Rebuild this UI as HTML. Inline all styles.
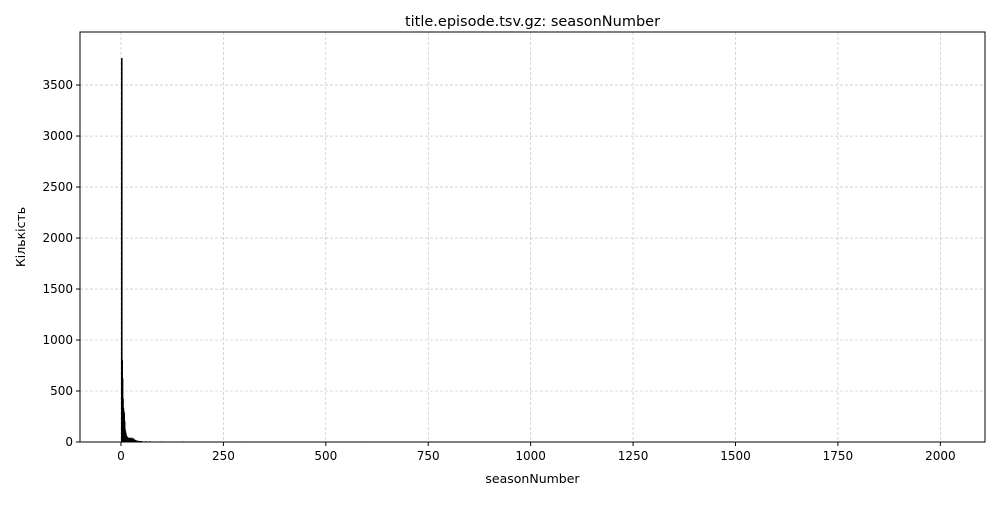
<!DOCTYPE html>
<html><head><meta charset="utf-8"><style>
body{margin:0;background:#fff;font-family:"Liberation Sans","DejaVu Sans",sans-serif;}
</style></head><body>
<svg id="c" width="1000" height="500" font-family="DejaVu Sans, Liberation Sans, sans-serif"></svg>
<script>
const seasons=[1,2,3,4,5,6,7,8,9,10,11,12,13,14,15,16,17,18,19,20,22,24,26,28,30,32,35,38,42,46,50,60,70,100,150,300,600,1000,2000];
const counts=[3760,800,620,420,330,300,280,200,120,100,80,60,55,45,40,40,35,35,30,40,35,30,38,25,30,20,15,10,8,6,5,4,3,2,2,1,1,1,1];
const xTicks=[0,250,500,750,1000,1250,1500,1750,2000];
const yTicks=[0,500,1000,1500,2000,2500,3000,3500];
const L=80,R=985,T=32,B=442,x0=-100,x1=2109,y1=4020;
const X=v=>L+(v-x0)/(x1-x0)*(R-L), Y=v=>B-v/y1*(B-T);
const s=document.getElementById('c');const NS='http://www.w3.org/2000/svg';
function mk(t,a,txt){const e=document.createElementNS(NS,t);for(const k in a)e.setAttribute(k,a[k]);if(txt!=null)e.textContent=txt;s.appendChild(e);return e;}
xTicks.forEach(v=>{let g=mk('line',{x1:X(v),x2:X(v),y1:T,y2:B,stroke:'#bbb','stroke-width':0.6,'stroke-dasharray':'3,2'});
let t=mk('line',{x1:X(v),x2:X(v),y1:B,y2:B+4,stroke:'#000'});
let l=mk('text',{x:X(v),y:B+18,'text-anchor':'middle','font-size':12},v);});
yTicks.forEach(v=>{let g=mk('line',{x1:L,x2:R,y1:Y(v),y2:Y(v),stroke:'#bbb','stroke-width':0.6,'stroke-dasharray':'3,2'});
let t=mk('line',{x1:L-4,x2:L,y1:Y(v),y2:Y(v),stroke:'#000'});
let l=mk('text',{x:L-7,y:Y(v)+4,'text-anchor':'end','font-size':12},v);});
seasons.forEach((v,i)=>{const w=Math.max(X(v+1)-X(v),0.8);let b=mk('rect',{x:X(v),y:Y(counts[i]),width:w,height:B-Y(counts[i]),fill:'#000',stroke:'#000','stroke-width':0.8});});
let f=mk('rect',{x:L,y:T,width:R-L,height:B-T,fill:'none',stroke:'#000','stroke-width':1});
let ti=mk('text',{x:(L+R)/2,y:T-6,'text-anchor':'middle','font-size':14.5},'title.episode.tsv.gz: seasonNumber');
let xt=mk('text',{x:(L+R)/2,y:483,'text-anchor':'middle','font-size':12.5},'seasonNumber');
let yt=mk('text',{x:25,y:(T+B)/2,'text-anchor':'middle','font-size':12.5,transform:'rotate(-90 25 '+(T+B)/2+')'},'Кількість');
</script>
</body></html>
